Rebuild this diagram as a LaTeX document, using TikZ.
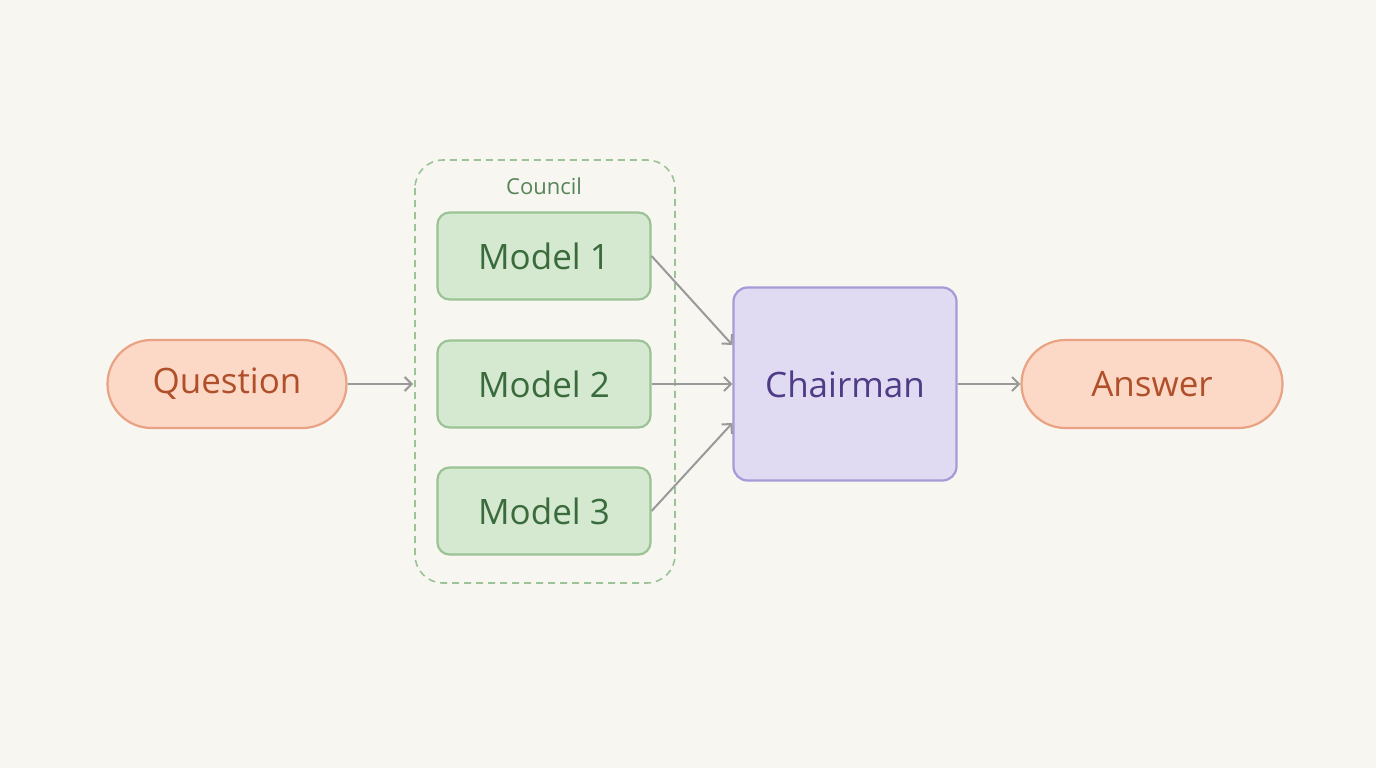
\documentclass[tikz,border=0pt]{standalone}
\usepackage{fontspec}
\setmainfont{Open Sans}
\usetikzlibrary{arrows.meta}
\definecolor{bg}{HTML}{F7F6F1}
\definecolor{pfill}{HTML}{FCD8C6}
\definecolor{pdraw}{HTML}{E9A384}
\definecolor{ptext}{HTML}{B0502A}
\definecolor{gfill}{HTML}{D5E8D0}
\definecolor{gdraw}{HTML}{9CC395}
\definecolor{gtext}{HTML}{3A6B3C}
\definecolor{cfill}{HTML}{E1DAF3}
\definecolor{cdraw}{HTML}{A79AD6}
\definecolor{ctext}{HTML}{4E3C86}
\definecolor{arr}{HTML}{999999}
\begin{document}
\begin{tikzpicture}[x=1pt,y=-1pt,
  pill/.style={draw=pdraw,fill=pfill,line width=2.2pt,rounded corners=44pt,minimum height=88pt,text=ptext,font=\fontsize{35}{40}\selectfont},
  model/.style={draw=gdraw,fill=gfill,line width=2.2pt,rounded corners=12pt,minimum width=213pt,minimum height=87pt,text=gtext,font=\fontsize{35}{40}\selectfont},
  conn/.style={draw=arr,line width=2pt,-{Straight Barb[length=7pt,width=14pt,line width=2pt]}}]
\fill[bg] (0,0) rectangle (1376,768);
\draw[gdraw,line width=1.6pt,dash pattern=on 7pt off 5pt,rounded corners=28pt] (415,160) rectangle (675,583);
\node[text=gtext!70!gdraw,font=\fontsize{22}{26}\selectfont] (council) at (544,186) {Council};
\node[pill,minimum width=239pt] (q) at (227,384) {Question};
\node[pill,minimum width=261pt] (a) at (1152,384) {Answer};
\node[model] (m1) at (544,256) {Model 1};
\node[model] (m2) at (544,384) {Model 2};
\node[model] (m3) at (544,511) {Model 3};
\node[draw=cdraw,fill=cfill,line width=2.2pt,rounded corners=14pt,minimum width=223pt,minimum height=193pt,text=ctext,font=\fontsize{35}{40}\selectfont] (c) at (845,384) {Chairman};
\coordinate (cin) at (413,384);
\draw[conn] (q) -- (cin);
\draw[conn] (m1.east) -- ([yshift=39pt]c.west);
\draw[conn] (m2.east) -- (c.west);
\draw[conn] (m3.east) -- ([yshift=-39pt]c.west);
\draw[conn] (c.east) -- (a.west);
\end{tikzpicture}
\end{document}
